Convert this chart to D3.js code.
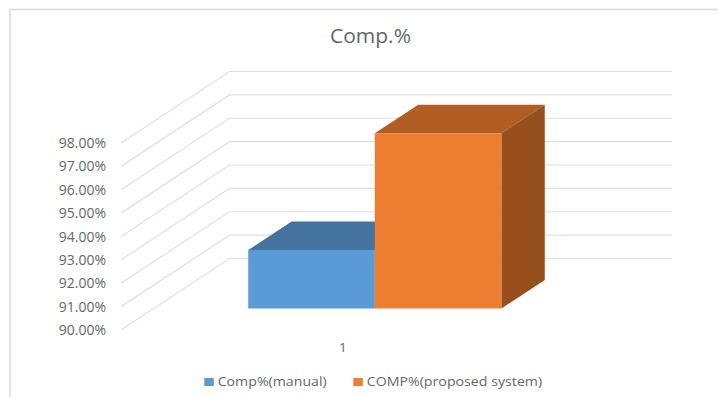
<!DOCTYPE html>
<html>
<head>
<meta charset="utf-8">
<style>
  html, body { margin: 0; padding: 0; background: #fff; }
  svg { display: block; }
  text { font-family: "Open Sans", sans-serif; fill: #666666; }
</style>
<script src="https://cdn.jsdelivr.net/npm/d3@7/dist/d3.min.js"></script>
</head>
<body>
<svg id="chart" width="718" height="397"></svg>
<script>
// Chart content
const chartTitle = "Comp.%";
const categories = ["1"];
const seriesNames = ["Comp%(manual)", "COMP%(proposed system)"];
const manualValues = [92.5];
const proposedValues = [97.5];
const axisTicks = [90, 91, 92, 93, 94, 95, 96, 97, 98];

// Face colours per series: front, top, side
const faceColors = [
  { front: "#5B9BD5", top: "#44739F", side: "#375F85" },
  { front: "#ED7D31", top: "#B25D22", side: "#97501C" }
];

const svg = d3.select("#chart");

// Frame around the chart area (open on the right and at the bottom)
svg.append("path")
  .attr("d", "M10,397V9.5H718")
  .attr("fill", "none")
  .attr("stroke", "#D9D9D9")
  .attr("stroke-width", 1.5);

// Front plane scales and the oblique depth projection
const y = d3.scaleLinear().domain([90, 98]).range([330, 143]);
const xCategory = d3.scaleBand().domain(categories).range([121, 563.5]);
const xSeries = d3.scaleBand().domain(seriesNames)
  .range(xCategory.range()).paddingInner(0).paddingOuter(0.748);
const depthX = d3.scaleLinear().domain([0, 1]).range([0, 108.5]);
const depthY = d3.scaleLinear().domain([0, 1]).range([0, -71.5]);
const project = (px, py, depth) => [px + depthX(depth), py + depthY(depth)];
const barDepthStart = 0.3;
const barDepthEnd = 0.7;

// Gridlines: floor or side wall run, then along the back wall
const backRight = xCategory.range()[1] + depthX(1);
const gridLine = d3.line();
svg.append("g").selectAll("path").data(axisTicks).join("path")
  .attr("d", t => gridLine([
    [xCategory.range()[0], y(t)],
    project(xCategory.range()[0], y(t), 1),
    [backRight, y(t) + depthY(1)]
  ]))
  .attr("fill", "none")
  .attr("stroke", "#E0E0E0")
  .attr("stroke-width", 1.2);

// Value axis labels
svg.append("g").selectAll("text").data(axisTicks).join("text")
  .attr("x", 106)
  .attr("y", t => y(t) + 5)
  .attr("text-anchor", "end")
  .style("font-size", "14px")
  .text(t => d3.format(".2f")(t) + "%");

// Category label
svg.append("text")
  .attr("x", xCategory("1") + xCategory.bandwidth() / 2 + 0.5)
  .attr("y", 352)
  .attr("text-anchor", "middle")
  .style("font-size", "13.5px")
  .text(categories[0]);

// 3D columns, drawn left to right so later series overlap earlier ones
const polygon = pts => d3.line()(pts) + "Z";
[manualValues, proposedValues].forEach((values, s) => {
  const name = seriesNames[s];
  const colors = faceColors[s];
  const g = svg.append("g");
  values.forEach(v => {
    const x0 = xSeries(name);
    const x1 = x0 + xSeries.bandwidth();
    const base = y(90);
    const top = y(v);
    const topFace = [
      project(x0, top, barDepthStart),
      project(x1, top, barDepthStart),
      project(x1, top, barDepthEnd),
      project(x0, top, barDepthEnd)
    ];
    const sideFace = [
      project(x1, top, barDepthStart),
      project(x1, top, barDepthEnd),
      project(x1, base, barDepthEnd),
      project(x1, base, barDepthStart)
    ];
    const frontFace = [
      project(x0, top, barDepthStart),
      project(x1, top, barDepthStart),
      project(x1, base, barDepthStart),
      project(x0, base, barDepthStart)
    ];
    g.append("path").attr("d", polygon(topFace)).attr("fill", colors.top);
    g.append("path").attr("d", polygon(sideFace)).attr("fill", colors.side);
    g.append("path").attr("d", polygon(frontFace)).attr("fill", colors.front);
  });
});

// Title
svg.append("text")
  .attr("x", 370.5)
  .attr("y", 42.5)
  .attr("text-anchor", "middle")
  .attr("textLength", 81)
  .attr("lengthAdjust", "spacingAndGlyphs")
  .style("font-size", "20.5px")
  .text(chartTitle);

// Legend
const legendX = [204.3, 353.3];
const legendTextWidth = [109, 175.5];
const legend = svg.append("g").selectAll("g").data(seriesNames).join("g")
  .attr("transform", (d, i) => `translate(${legendX[i]},378)`);
legend.append("rect")
  .attr("width", 9.5).attr("height", 8)
  .attr("fill", (d, i) => faceColors[i].front);
legend.append("text")
  .attr("x", 13.4)
  .attr("y", 8)
  .attr("textLength", (d, i) => legendTextWidth[i])
  .attr("lengthAdjust", "spacingAndGlyphs")
  .style("font-size", "13.5px")
  .text(d => d);
</script>
</body>
</html>
